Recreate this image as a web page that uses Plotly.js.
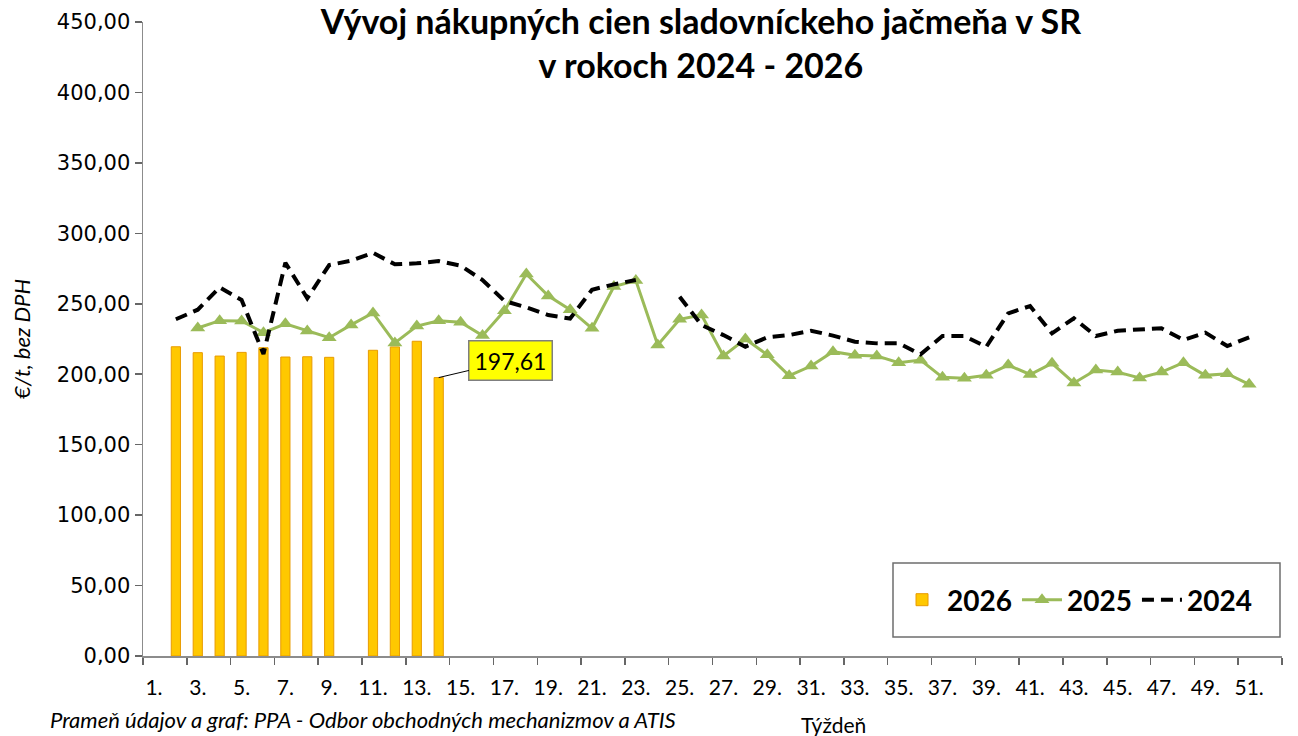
<!DOCTYPE html>
<html>
<head>
<meta charset="utf-8">
<script src="https://cdn.plot.ly/plotly-3.0.1.min.js"></script>
<style>html,body{margin:0;padding:0;background:#fff;}#chart{width:1298px;height:736px;}</style>
</head>
<body>
<div id="chart"></div>
<script>
// Weeks 1..52
const weeks = Array.from({length: 52}, (_, i) => i + 1);
const weekLabelVals = weeks.filter(w => w % 2 === 1 && w <= 51);
const weekLabelText = weekLabelVals.map(w => w + '.');

// 2026 (bars) – weeks with data
const weeks2026 = [2, 3, 4, 5, 6, 7, 8, 9, 11, 12, 13, 14];
const values2026 = [219.5, 215.3, 212.9, 215.5, 218.8, 212.2, 212.4, 212.0, 217.0, 219.4, 223.4, 197.61];

// 2025 (green line with triangles), weeks 3..51
const weeks2025 = [3,4,5,6,7,8,9,10,11,12,13,14,15,16,17,18,19,20,21,22,23,24,25,26,27,28,29,30,31,32,33,34,35,36,37,38,39,40,41,42,43,44,45,46,47,48,49,50,51];
const values2025 = [232.8, 238.0, 237.8, 229.5, 235.8, 230.7, 225.9, 235.0, 243.5, 222.2, 234.2, 238.0, 236.9,
  227.4, 245.0, 271.1, 255.6, 245.8, 232.6, 262.2, 266.5, 220.7, 239.0, 242.0, 213.0, 225.0, 213.8, 199.0, 205.8, 216.0,
  213.5, 213.0, 208.2, 210.0, 197.8, 197.1, 199.2, 206.5, 199.8, 207.7, 193.8, 203.0, 201.5, 197.4, 201.5, 208.2, 199.2, 200.4, 192.8];

// 2024 (black dashed line), weeks 2..51, week 24 missing
const weeks2024 = [2,3,4,5,6,7,8,9,10,11,12,13,14,15,16,17,18,19,20,21,22,23,24,25,26,27,28,29,30,31,32,33,34,35,36,37,38,39,40,41,42,43,44,45,46,47,48,49,50,51];
const values2024 = [239.0, 245.8, 261.7, 252.7, 214.3, 279.1, 253.9, 277.5, 280.6, 286.2, 278.0, 278.7, 280.3, 277.0,
  266.9, 252.0, 247.5, 242.0, 239.5, 260.0, 263.8, 266.9, null, 255.0, 234.9, 227.8, 219.5, 226.2, 227.8, 230.9, 227.4,
  223.1, 221.9, 222.0, 214.1, 227.1, 227.1, 219.5, 243.2, 248.4, 229.0, 239.7, 227.1, 230.9, 231.9, 232.6, 224.3, 229.5, 220.0, 226.2];

const yTickVals = [0, 50, 100, 150, 200, 250, 300, 350, 400, 450];

const labelWeek = 14;
const labelValue = 197.61;

const traces = [
  {
    type: 'bar', name: '2026', x: weeks2026, y: values2026, width: 0.42,
    marker: {color: '#FFC800', line: {color: '#E89B00', width: 1}},
    hoverinfo: 'x+y'
  },
  {
    type: 'scatter', mode: 'lines+markers', name: '2025', x: weeks2025, y: values2025,
    line: {color: '#9BBB59', width: 3},
    marker: {symbol: 'triangle-up', size: 13, color: '#9BBB59'}
  },
  {
    type: 'scatter', mode: 'lines', name: '2024', x: weeks2024, y: values2024, connectgaps: false,
    line: {color: '#000000', width: 4, dash: '12px,7px'}
  }
];

const layout = {
  width: 1298, height: 736,
  paper_bgcolor: '#ffffff', plot_bgcolor: '#ffffff',
  margin: {l: 143, r: 16, t: 22, b: 80},
  separators: ', ',
  font: {family: 'Lato, sans-serif', color: '#000'},
  title: {
    text: '<b>Vývoj nákupných cien sladovníckeho jačmeňa v SR<br>v rokoch 2024 - 2026</b>',
    font: {family: 'Lato, sans-serif', size: 34, color: '#000'},
    x: 0.54, xanchor: 'center', xref: 'container',
    y: 1 - 34 / 736, yanchor: 'middle', yref: 'container'
  },
  showlegend: true,
  legend: {
    orientation: 'h', x: 0.662, y: (656 - 600) / 634, xanchor: 'left', yanchor: 'middle',
    borderwidth: 0, bgcolor: 'rgba(255,255,255,0)',
    font: {family: 'Lato, sans-serif', size: 28, color: '#000', weight: 'bold'},
    itemwidth: 40, tracegroupgap: 0
  },
  shapes: [
    {
      type: 'rect', xref: 'paper', yref: 'paper',
      x0: (893 - 143) / 1139, x1: (1280 - 143) / 1139,
      y0: (656 - 637) / 634, y1: (656 - 563) / 634,
      line: {color: '#6e6e6e', width: 1.5}, fillcolor: '#ffffff', layer: 'above'
    }
  ],
  xaxis: {
    type: 'linear', range: [0.5, 52.5], showgrid: false, zeroline: false,
    showline: true, linecolor: '#8c8c8c', linewidth: 1.5,
    tickmode: 'array', tickvals: weekLabelVals, ticktext: weekLabelText, ticks: '',
    ticklabelstandoff: 12,
    tickfont: {family: 'Lato, sans-serif', size: 21, color: '#000'},
    minor: {ticks: 'outside', ticklen: 7, tickcolor: '#666', tickwidth: 1.5, tickmode: 'linear', tick0: 0.5, dtick: 2, showgrid: false},
    fixedrange: true
  },
  yaxis: {
    range: [0, 450], showgrid: false, zeroline: false,
    showline: true, linecolor: '#8c8c8c', linewidth: 1.5,
    tickmode: 'array', tickvals: yTickVals, tickformat: '.2f',
    ticks: 'outside', ticklen: 7, tickcolor: '#666', tickwidth: 1.5,
    tickfont: {family: 'DejaVu Sans, sans-serif', size: 21, color: '#000'},
    title: {text: '<i>€/t, bez DPH</i>', font: {family: 'Lato, sans-serif', size: 22, color: '#000'}, standoff: 20},
    automargin: false,
    fixedrange: true
  },
  annotations: [
    {
      x: labelWeek, y: labelValue, xref: 'x', yref: 'y',
      text: '197,61', showarrow: true, arrowhead: 0, arrowwidth: 1, arrowcolor: '#000',
      ax: 72, ay: -17, xanchor: 'center', yanchor: 'middle',
      bgcolor: '#FFFF00', bordercolor: '#7f7f7f', borderwidth: 1.5, borderpad: 5,
      font: {family: 'Lato, sans-serif', size: 23, color: '#000'}
    },
    {
      xref: 'paper', yref: 'paper', x: (833 - 143) / 1139, y: -(724 - 656) / 634,
      xanchor: 'center', yanchor: 'middle', showarrow: false,
      text: 'Týždeň', font: {family: 'Lato, sans-serif', size: 21, color: '#000'}
    },
    {
      xref: 'paper', yref: 'paper', x: -(143 - 48) / 1139, y: -(719 - 656) / 634,
      xanchor: 'left', yanchor: 'middle', showarrow: false,
      text: '<i>Prameň údajov a graf: PPA - Odbor obchodných mechanizmov a ATIS</i>',
      font: {family: 'Lato, sans-serif', size: 22, color: '#000'}
    }
  ]
};

Plotly.newPlot('chart', traces, layout, {displayModeBar: false, staticPlot: true});
</script>
</body>
</html>
